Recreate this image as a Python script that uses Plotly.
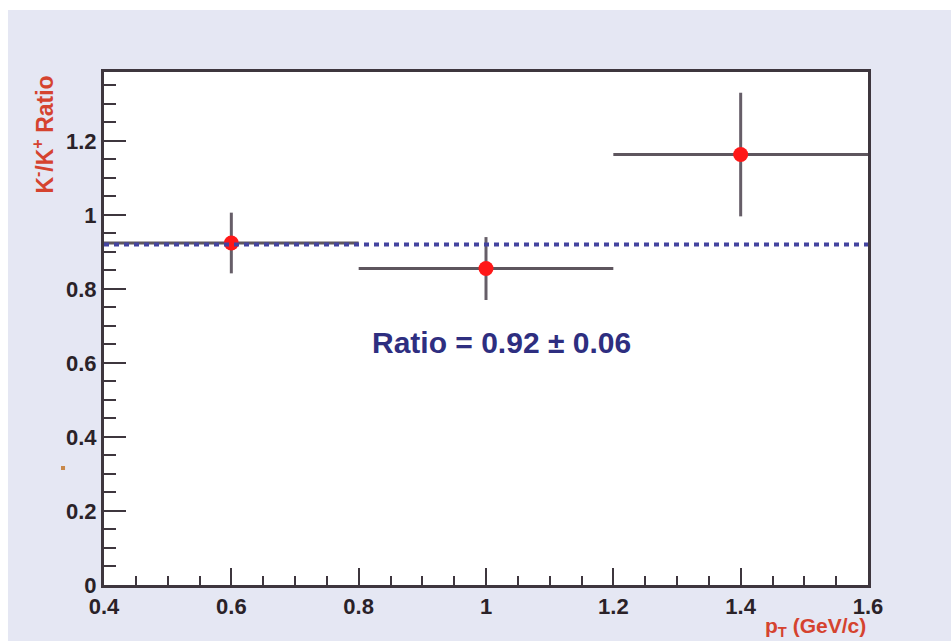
import plotly.graph_objects as go

# ---- data ----
pt = [0.6, 1.0, 1.4]
pt_halfwidth = [0.2, 0.2, 0.2]
ratio = [0.924, 0.855, 1.163]
ratio_err = [0.082, 0.085, 0.167]

fit_x = [0.4, 1.6]
fit_value = 0.92
fit_label = "Ratio = 0.92 ± 0.06"

x_tickvals = [0.4, 0.6, 0.8, 1.0, 1.2, 1.4, 1.6]
x_ticktext = ["0.4", "0.6", "0.8", "1", "1.2", "1.4", "1.6"]
y_tickvals = [0, 0.2, 0.4, 0.6, 0.8, 1.0, 1.2]
y_ticktext = ["0", "0.2", "0.4", "0.6", "0.8", "1", "1.2"]

FONT = "Liberation Sans, Arial, sans-serif"
AXIS_COL = "#3e363e"
BAR_COL = "#5e565e"

fig = go.Figure()

# data points with error bars
fig.add_trace(go.Scatter(
    x=pt, y=ratio, mode="markers",
    marker=dict(color="#ff1818", size=15, line=dict(width=0)),
    error_x=dict(type="data", array=pt_halfwidth, color=BAR_COL, thickness=3, width=0),
    error_y=dict(type="data", array=ratio_err, color="#665e68", thickness=3, width=0),
    showlegend=False, hoverinfo="skip",
))

# fitted constant (dotted blue line)
fig.add_trace(go.Scatter(
    x=fit_x, y=[fit_value] * len(fit_x), mode="lines",
    line=dict(color="#4444a0", width=4, dash="5px,5px"),
    showlegend=False, hoverinfo="skip",
))

axis_common = dict(
    showline=True, linecolor=AXIS_COL, linewidth=3, mirror=True,
    showgrid=False, zeroline=False, ticks="inside", tickwidth=2,
    tickcolor=AXIS_COL,
    tickfont=dict(family=FONT, size=22, color="#2a2228", weight="bold"),
)

fig.update_xaxes(
    range=[0.4, 1.6], tickvals=x_tickvals, ticktext=x_ticktext,
    ticklen=17,
    minor=dict(dtick=0.05, ticks="inside", ticklen=9, tickwidth=2, tickcolor=AXIS_COL, tick0=0.4),
    **axis_common,
)
fig.update_yaxes(
    range=[0, 1.386], tickvals=y_tickvals, ticktext=y_ticktext,
    ticklen=22,
    minor=dict(dtick=0.05, ticks="inside", ticklen=12, tickwidth=2, tickcolor=AXIS_COL, tick0=0),
    **axis_common,
)

RED = "#d5432f"
fig.add_annotation(
    text="K<sup>-</sup>/K<sup>+</sup> Ratio", textangle=-90,
    xref="paper", yref="paper", x=-0.0798, y=0.878,
    xanchor="center", yanchor="middle", showarrow=False,
    font=dict(family=FONT, size=23, color=RED, weight="bold"),
)
fig.add_annotation(
    text="p<sub>T</sub> (GeV/c)",
    xref="paper", yref="paper", x=1.0, y=-0.081,
    xanchor="right", yanchor="middle", showarrow=False,
    font=dict(family=FONT, size=21, color=RED, weight="bold"),
)
fig.add_annotation(
    text=fit_label, xref="x", yref="y", x=1.025, y=0.654,
    xanchor="center", yanchor="middle", showarrow=False,
    font=dict(family=FONT, size=30, color="#2e2e80", weight="bold"),
)

# white scan border strips and small speck outside the plot area
fig.add_shape(type="rect", xref="paper", yref="paper", x0=-0.2, x1=1.2, y0=1.1209, y1=1.2,
              fillcolor="white", line=dict(width=0), layer="below")
fig.add_shape(type="rect", xref="paper", yref="paper", x0=-0.2, x1=-0.1257, y0=-0.2, y1=1.2,
              fillcolor="white", line=dict(width=0), layer="below")
fig.add_shape(type="rect", xref="paper", yref="paper", x0=-0.0563, x1=-0.0510, y0=0.2242, y1=0.2320,
              fillcolor="#c8884a", line=dict(width=0))

fig.update_layout(
    width=951, height=641,
    margin=dict(l=104, r=83, t=72, b=56),
    paper_bgcolor="#e5e7f3", plot_bgcolor="white",
    font=dict(family=FONT),
)

fig.write_html("out.html")
